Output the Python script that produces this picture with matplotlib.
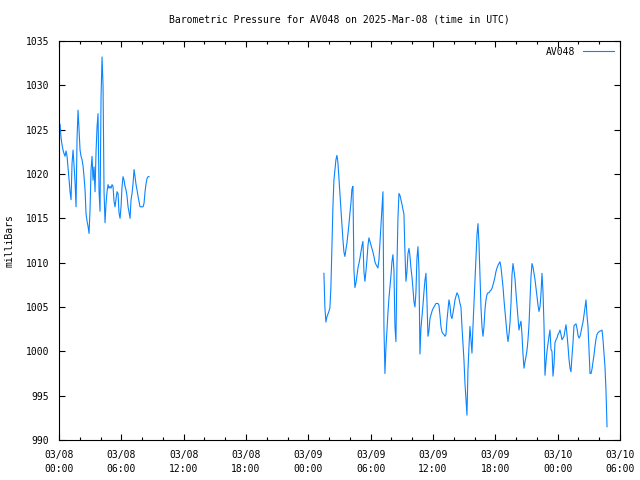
import numpy as np
import pandas as pd
import matplotlib
matplotlib.use("Agg")
import matplotlib.pyplot as plt
import matplotlib.dates as mdates

STATION = "AV048"
TITLE = "Barometric Pressure for AV048 on 2025-Mar-08 (time in UTC)"
YLABEL = "milliBars"

# segment 1: 03/08 ~00:06 -> ~08:40
seg1_start = "2025-03-08 00:06"
seg1_end = "2025-03-08 08:40"
seg1_values = [
    1025.6, 1024.1, 1023.3, 1022.7, 1022.3, 1022.0, 1022.6, 1022.0, 1020.7, 1019.4,
    1018.0, 1017.1, 1021.2, 1022.7, 1021.0, 1019.1, 1016.3, 1024.0, 1027.2, 1025.0,
    1022.7, 1022.0, 1021.6, 1020.9, 1019.7, 1018.2, 1015.5, 1014.7, 1014.1, 1013.3,
    1016.0, 1020.5, 1022.0, 1019.3, 1020.8, 1018.0, 1022.5, 1025.3, 1026.8, 1018.0,
    1015.8, 1028.7, 1033.2, 1030.0, 1018.0, 1014.5, 1016.7, 1018.0, 1018.8, 1018.4,
    1018.6, 1018.4, 1018.8, 1018.6, 1016.9, 1016.3, 1017.2, 1018.0, 1017.8, 1015.6,
    1015.0, 1016.3, 1018.6, 1019.7, 1019.3, 1018.6, 1018.2, 1017.5, 1016.3, 1015.7,
    1015.0, 1017.1, 1017.8, 1018.9, 1020.5, 1019.7, 1018.8, 1018.2, 1017.5, 1016.9,
    1016.3, 1016.3, 1016.3, 1016.3, 1016.7, 1018.0, 1018.9, 1019.5, 1019.7, 1019.7,
]

# segment 2: 03/09 ~01:30 -> 03/10 ~04:45
seg2_start = "2025-03-09 01:30"
seg2_end = "2025-03-10 04:45"
seg2_values = [
    1008.8, 1004.9, 1003.3, 1003.9, 1004.2, 1004.5, 1004.9, 1007.3, 1011.8, 1016.3,
    1019.3, 1020.5, 1021.6, 1022.1, 1021.3, 1019.5, 1017.8, 1016.0, 1014.3, 1012.6,
    1011.2, 1010.7, 1011.5, 1012.2, 1013.2, 1014.3, 1015.6, 1016.7, 1018.3, 1018.6,
    1009.2, 1007.2, 1007.7, 1008.5, 1009.4, 1009.9, 1010.5, 1011.2, 1011.9, 1012.4,
    1009.0, 1007.9, 1009.0, 1010.3, 1011.9, 1012.8, 1012.4, 1012.0, 1011.6, 1011.2,
    1010.7, 1010.1, 1009.8, 1009.6, 1009.4, 1010.3, 1012.2, 1013.9, 1015.8, 1018.0,
    1002.8, 997.5, 1000.4, 1002.4, 1004.3, 1006.0, 1007.3, 1008.5, 1010.1, 1010.9,
    1009.2, 1002.8, 1001.1, 1009.6, 1015.0, 1017.8, 1017.6, 1017.1, 1016.6, 1016.0,
    1015.5, 1011.2, 1007.9, 1009.0, 1011.0, 1011.6, 1010.8, 1009.4, 1008.4, 1007.1,
    1005.6, 1005.0, 1006.7, 1010.5, 1011.8, 1009.3, 999.7, 1002.6, 1003.9, 1005.2,
    1006.7, 1008.0, 1008.8, 1005.7, 1001.7, 1002.3, 1003.7, 1004.1, 1004.5, 1004.8,
    1005.0, 1005.2, 1005.4, 1005.4, 1005.4, 1005.2, 1004.1, 1002.8, 1002.2, 1002.0,
    1001.9, 1001.7, 1001.9, 1003.5, 1004.7, 1005.8, 1005.2, 1004.0, 1003.7, 1004.3,
    1005.0, 1005.8, 1006.2, 1006.6, 1006.4, 1006.0, 1005.4, 1005.0, 1002.8, 1000.9,
    999.0, 996.4, 994.5, 992.8, 997.9, 1000.5, 1002.8, 1001.3, 999.8, 1002.8,
    1005.4, 1008.1, 1010.5, 1013.1, 1014.4, 1012.2, 1008.6, 1005.0, 1002.8, 1001.7,
    1002.8, 1004.7, 1005.8, 1006.4, 1006.6, 1006.6, 1006.8, 1006.9, 1007.1, 1007.5,
    1007.9, 1008.4, 1009.0, 1009.4, 1009.7, 1009.9, 1010.1, 1009.5, 1008.4, 1007.3,
    1005.8, 1004.5, 1003.2, 1002.0, 1001.1, 1001.9, 1003.2, 1005.4, 1008.6, 1009.9,
    1009.1, 1008.2, 1006.6, 1005.2, 1003.9, 1002.4, 1003.0, 1003.4, 1001.9, 999.7,
    998.1, 998.8, 999.4, 1000.1, 1001.3, 1003.0, 1005.8, 1008.4, 1009.9, 1009.5,
    1008.8, 1008.1, 1007.2, 1006.2, 1005.2, 1004.5, 1005.0, 1006.5, 1008.8, 1006.7,
    1003.0, 997.3, 998.8, 1000.0, 1000.9, 1001.7, 1002.4, 1000.2, 1000.0, 997.2,
    998.5, 1001.0, 1001.3, 1001.5, 1001.9, 1002.1, 1002.4, 1001.9, 1001.3, 1001.5,
    1001.7, 1002.4, 1003.0, 1001.9, 1000.6, 999.1, 998.1, 997.7, 999.5, 1001.0,
    1002.9, 1003.0, 1003.1, 1002.6, 1001.8, 1001.5, 1001.7, 1002.2, 1002.8, 1003.3,
    1004.1, 1005.0, 1005.8, 1004.0, 1002.8, 1000.0, 997.5, 997.5, 998.0, 998.8,
    999.6, 1000.6, 1001.4, 1001.9, 1002.1, 1002.2, 1002.3, 1002.3, 1002.4, 1001.3,
    999.7, 998.2, 995.5, 991.5,
]

x_start = "2025-03-08 00:00"
x_end = "2025-03-10 06:00"
y_min, y_max, y_step = 990, 1035, 5

LINE_COLOR = "#0a84ff"
FONT = "DejaVu Sans Mono"
FS = 7

plt.rcParams["font.family"] = FONT
plt.rcParams["font.size"] = FS

t1 = pd.to_datetime(np.linspace(pd.Timestamp(seg1_start).value, pd.Timestamp(seg1_end).value, len(seg1_values)))
t2 = pd.to_datetime(np.linspace(pd.Timestamp(seg2_start).value, pd.Timestamp(seg2_end).value, len(seg2_values)))

fig = plt.figure(figsize=(6.4, 4.8), dpi=100)
ax = fig.add_axes([59/640, 1-440/480, (620-59)/640, (440-41)/480])

ax.plot(t1, seg1_values, color=LINE_COLOR, lw=0.8, label=STATION)
ax.plot(t2, seg2_values, color=LINE_COLOR, lw=0.8)

ax.set_xlim(pd.Timestamp(x_start), pd.Timestamp(x_end))
ax.set_ylim(y_min, y_max)
ax.set_yticks(np.arange(y_min, y_max + 1, y_step))

ax.xaxis.set_major_locator(mdates.HourLocator(byhour=[0, 6, 12, 18]))
ax.xaxis.set_minor_locator(mdates.HourLocator(byhour=range(0, 24, 2)))
ax.xaxis.set_major_formatter(mdates.DateFormatter("%m/%d\n%H:%M"))

ax.tick_params(which="both", direction="in", top=True, right=True, width=0.8, colors="black", labelsize=FS)
ax.tick_params(which="major", length=4.5, pad=7)
ax.tick_params(which="minor", length=2.5)
ax.tick_params(axis="y", pad=7)
for lab in ax.get_xticklabels():
    lab.set_linespacing(1.5)
for sp in ax.spines.values():
    sp.set_linewidth(0.8)

ax.set_title(TITLE, fontsize=FS, pad=13)
ax.set_ylabel(YLABEL, fontsize=FS, labelpad=8)

leg = ax.legend(loc="upper right", frameon=False, markerfirst=False, handlelength=3.2,
                handletextpad=0.8, borderaxespad=0.2, fontsize=FS)

fig.savefig("out.png", dpi=100)
